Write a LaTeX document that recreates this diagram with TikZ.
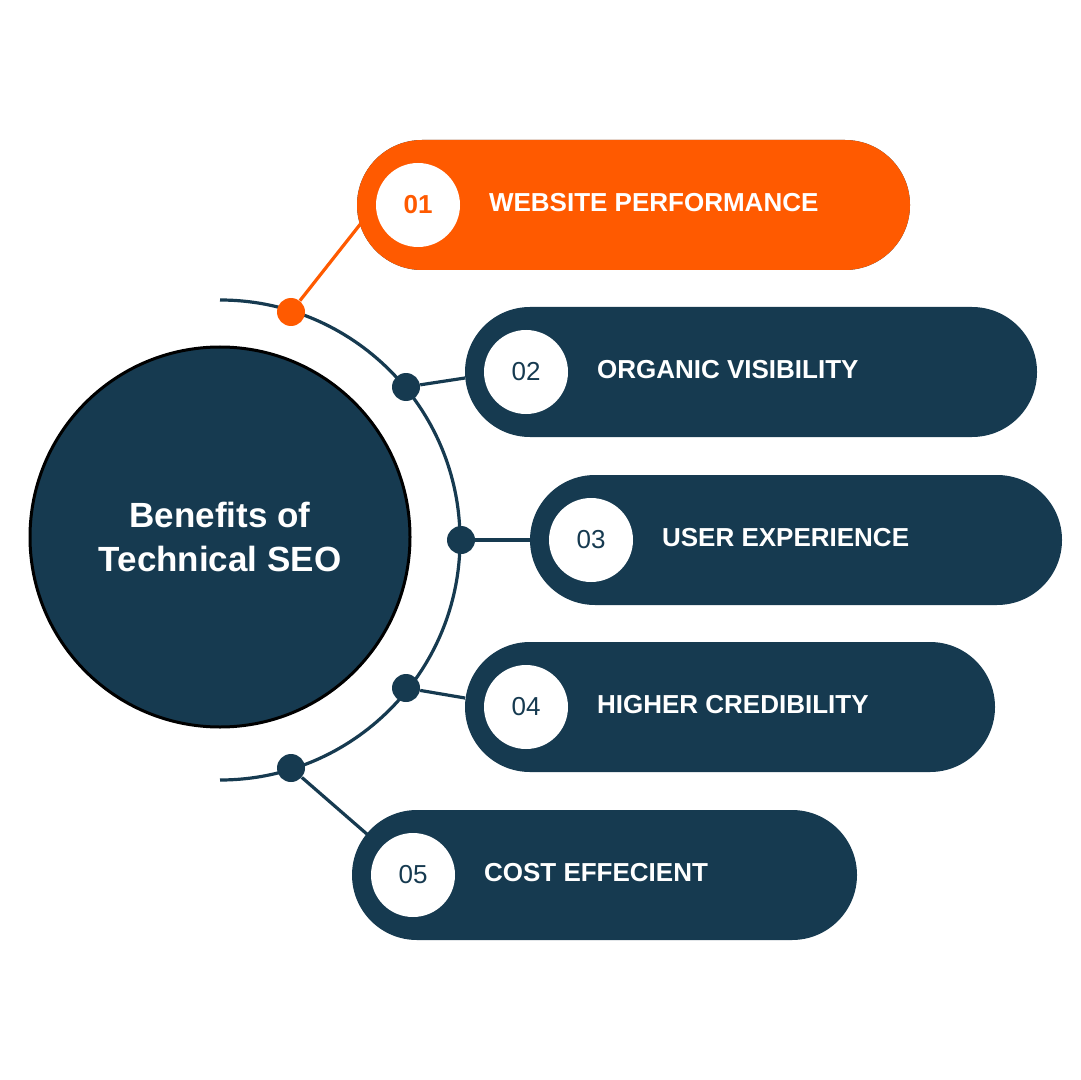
\documentclass[tikz,border=0pt]{standalone}
\usepackage{fontspec}
\setmainfont{Liberation Sans}
\definecolor{navy}{HTML}{163A50}
\definecolor{seo}{HTML}{FF5A00}
\tikzset{
  pill/.style={rounded corners=32.5pt, inner sep=0pt},
  badge/.style={circle, fill=white, minimum size=42pt, inner sep=0pt, font=\fontsize{13}{13}\selectfont},
  label/.style={anchor=west, text=white, font=\bfseries\fontsize{13}{13}\selectfont},
  dot/.style={circle, fill=navy, minimum size=14pt, inner sep=0pt},
  link/.style={line width=1.6pt, navy}
}
\begin{document}
\begin{tikzpicture}[x=0.5pt, y=-0.5pt]
  \useasboundingbox (0,0) rectangle (1080,1080);
  % hub
  \node[circle, fill=navy, draw=black, line width=1.5pt, minimum size=190pt, text=white,
        align=center, font=\bfseries\fontsize{17.5}{22}\selectfont] (hub) at (220,537) {Benefits of\\Technical SEO};
  \draw[link] (220,300) arc[start angle=90, end angle=-90, x radius=240, y radius=-240];
  % items
  \foreach \i/\xl/\xr/\yc/\txt in {1/357/910/205/WEBSITE PERFORMANCE,
                                   2/465/1037/372/ORGANIC VISIBILITY,
                                   3/530/1062/540/USER EXPERIENCE,
                                   4/465/995/707/HIGHER CREDIBILITY,
                                   5/352/857/875/COST EFFECIENT} {
    \fill[pill, fill=navy] (\xl,\yc-65) rectangle (\xr,\yc+65);
    \coordinate (p\i) at (\xl,\yc);
    \node[badge, text=navy] (b\i) at (\xl+61,\yc) {0\i};
    \node[label] (t\i) at (\xl+125,\yc-2) {\txt};
  }
  % first item highlighted
  \fill[pill, fill=seo] (357,140) rectangle (910,270);
  \node[badge, text=seo, font=\bfseries\fontsize{13}{13}\selectfont] at (b1) {01};
  \node[label] at (t1.west) {WEBSITE PERFORMANCE};
  % dots and links
  \node[dot, fill=seo] (d1) at (291,312) {};
  \node[dot] (d2) at (406,387) {};
  \node[dot] (d3) at (461,540) {};
  \node[dot] (d4) at (406,688) {};
  \node[dot] (d5) at (291,768) {};
  \coordinate (c1) at (362,222);
  \coordinate (c5) at (368,835);
  \draw[link, seo] (d1) -- (c1);
  \draw[link] (d2) -- (465,378);
  \draw[link] (d3) -- (p3);
  \draw[link] (d4) -- (465,698);
  \draw[link] (d5) -- (c5);
\end{tikzpicture}
\end{document}
